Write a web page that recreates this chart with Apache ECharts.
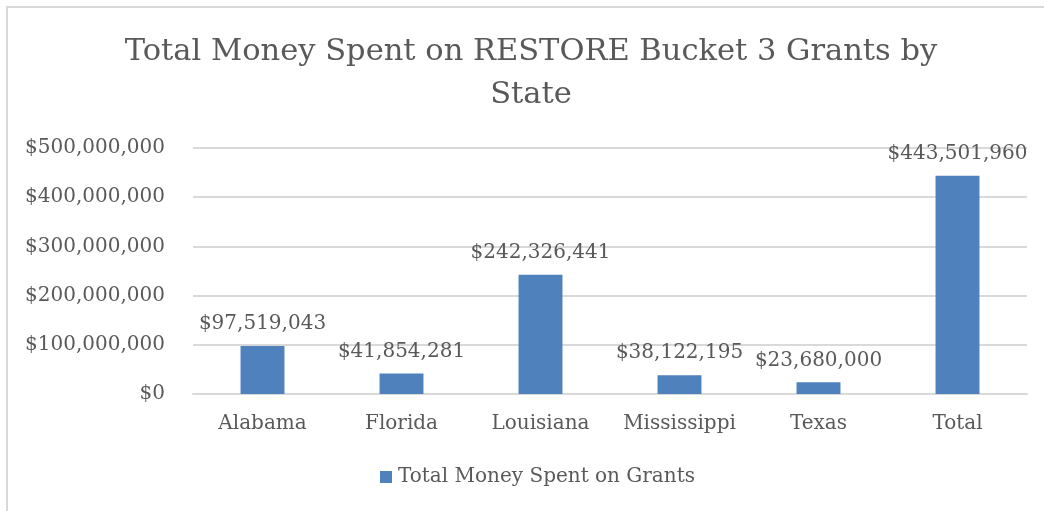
<!DOCTYPE html>
<html>
<head>
<meta charset="utf-8">
<script src="https://cdn.jsdelivr.net/npm/echarts@6/dist/echarts.min.js"></script>
<style>
  html, body { margin: 0; padding: 0; background: #fff; }
  #chart { width: 1044px; height: 511px; }
</style>
</head>
<body>
<div id="chart"></div>
<script>
// data
const states = ["Alabama", "Florida", "Louisiana", "Mississippi", "Texas", "Total"];
const spent = [97519043, 41854281, 242326441, 38122195, 23680000, 443501960];
const seriesName = "Total Money Spent on Grants";
const titleText = "Total Money Spent on RESTORE Bucket 3 Grants by\nState";

const fontFam = "'DejaVu Serif', 'Liberation Serif', serif";
const textColor = "#595959";

const money = (v) => "$" + Math.round(v).toLocaleString("en-US");

const chart = echarts.init(document.getElementById("chart"), null, { renderer: "canvas" });
chart.setOption({
  animation: false,
  backgroundColor: "#fff",
  graphic: [
    {
      type: "rect",
      shape: { x: 7, y: 7, width: 1060, height: 540 },
      style: { fill: "none", stroke: "#d9d9d9", lineWidth: 2 },
      silent: true,
    },
    // title as graphic text so it can sit a bit right of centre like the original
    {
      type: "text",
      x: 531,
      y: 31,
      silent: true,
      style: {
        text: titleText,
        align: "center",
        verticalAlign: "top",
        fontFamily: fontFam,
        fontSize: 30.5,
        lineHeight: 43,
        fill: textColor,
      },
    },
  ],
  legend: {
    bottom: 19,
    left: 375,
    itemWidth: 12,
    itemHeight: 12,
    icon: "rect",
    textStyle: { fontFamily: fontFam, fontSize: 20, color: textColor, padding: [0, 0, 0, 1] },
    data: [seriesName],
  },
  grid: {
    left: 193,
    right: 17,
    top: 148,
    bottom: 117,
  },
  xAxis: {
    type: "category",
    data: states,
    axisLine: { lineStyle: { color: "#d9d9d9", width: 2 } },
    axisTick: { show: false },
    axisLabel: { interval: 0, fontFamily: fontFam, fontSize: 20, color: textColor, margin: 20 },
  },
  yAxis: {
    type: "value",
    min: 0,
    max: 500000000,
    interval: 100000000,
    axisLine: { show: false },
    axisTick: { show: false },
    splitLine: { lineStyle: { color: "#d9d9d9", width: 2 } },
    axisLabel: {
      fontFamily: fontFam,
      fontSize: 20,
      color: textColor,
      margin: 28,
      formatter: money,
    },
  },
  series: [
    {
      name: seriesName,
      type: "bar",
      data: spent,
      barWidth: "31.6%",
      itemStyle: { color: "#4f81bd" },
      label: {
        show: true,
        position: "top",
        distance: 12,
        fontFamily: fontFam,
        fontSize: 20,
        color: textColor,
        formatter: (p) => money(p.value),
      },
    },
  ],
});
</script>
</body>
</html>
